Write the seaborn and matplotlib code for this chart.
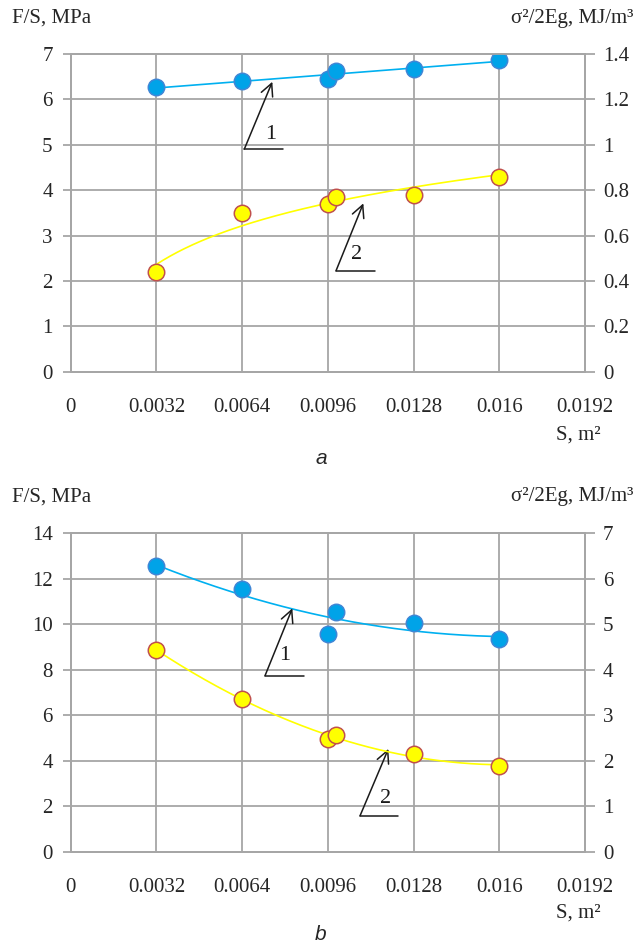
import numpy as np
import pandas as pd
import matplotlib
matplotlib.use("Agg")
import matplotlib.pyplot as plt
import seaborn as sns

# ---------------- data ----------------
S = [0.0032, 0.0064, 0.0096, 0.0099, 0.0128, 0.016]
# panel a
a_FS = [6.27, 6.40, 6.45, 6.62, 6.68, 6.86]          # curve 1, left axis (MPa)
a_W = [0.44, 0.70, 0.74, 0.77, 0.78, 0.86]           # curve 2, right axis (MJ/m3)
# panel b
b_FS = [12.56, 11.55, 9.58, 10.53, 10.05, 9.36]      # curve 1, left axis (MPa)
b_W = [4.44, 3.35, 2.47, 2.56, 2.14, 1.89]           # curve 2, right axis (MJ/m3)

x_ticks = [0, 0.0032, 0.0064, 0.0096, 0.0128, 0.016, 0.0192]
x_ticklabels = ["0", "0.0032", "0.0064", "0.0096", "0.0128", "0.016", "0.0192"]
a_left_ticks = [0, 1, 2, 3, 4, 5, 6, 7]
a_right_ticks = [0, 0.2, 0.4, 0.6, 0.8, 1, 1.2, 1.4]
b_left_ticks = [0, 2, 4, 6, 8, 10, 12, 14]
b_right_ticks = [0, 1, 2, 3, 4, 5, 6, 7]

left_label = "F/S, MPa"
right_label = "σ²/2Eg, MJ/m³"
x_label = "S, m²"
panel_labels = ["a", "b"]

# ---------------- style ----------------
sns.set_theme(style="white")
plt.rcParams['font.family'] = ['Liberation Serif', 'DejaVu Serif']
plt.rcParams['mathtext.fontset'] = 'stix'

BLUE = "#00A3E8"
BLUE_LINE = "#00B0F0"
BLUE_EDGE = "#3F86D6"
YEL = "#FFFF00"
YEL_EDGE = "#C0504D"
GRID = "#A6A6A6"
TXT = "#262626"
FS = 15

fig = plt.figure(figsize=(6.41, 9.43), dpi=100)
W, H = 641, 943
ax_left_px, ax_right_px = 70.7, 585.0


def make_axes(top_px, bot_px):
    return fig.add_axes([ax_left_px / W, 1 - bot_px / H,
                         (ax_right_px - ax_left_px) / W, (bot_px - top_px) / H])


def style_axes(ax, ax2, lticks, rticks):
    ax.set_xlim(0, 0.0192)
    ax.set_ylim(lticks[0], lticks[-1])
    ax2.set_ylim(rticks[0], rticks[-1])
    ax.set_xticks(x_ticks)
    ax.set_xticklabels(x_ticklabels)
    ax.set_yticks(lticks)
    ax.set_yticklabels([f"{t:g}" for t in lticks])
    ax2.set_yticks(rticks)
    ax2.set_yticklabels([f"{t:g}" for t in rticks])
    ax.grid(True, color=GRID, lw=1.3)
    ax2.grid(False)
    for a in (ax, ax2):
        for sp in a.spines.values():
            sp.set_color(GRID)
            sp.set_linewidth(1.3)
        a.spines['top'].set_visible(True)
        a.tick_params(labelcolor=TXT, labelsize=FS, length=6, width=1.3,
                      color=GRID, direction='out')
        a.set_xlabel("")
        a.set_ylabel("")
    ax.tick_params(axis='x', pad=13)
    ax.tick_params(axis='y', pad=7)
    ax2.tick_params(axis='y', pad=6, length=7)
    ax.set_zorder(ax2.get_zorder() - 1)
    ax2.patch.set_visible(False)


def fit_curve(x, y, kind):
    xs = np.linspace(S[0], S[-1], 200)
    x = np.asarray(x); y = np.asarray(y)
    if kind == "lin":
        p = np.polyfit(x, y, 1); ys = np.polyval(p, xs)
    elif kind == "log":
        p = np.polyfit(np.log(x), y, 1); ys = np.polyval(p, np.log(xs))
    else:
        p = np.polyfit(x, y, 2); ys = np.polyval(p, xs)
    return pd.DataFrame({"x": xs, "y": ys})


def draw_series(ax, x, y, kind, line_color, fill, edge):
    d = fit_curve(x, y, kind)
    sns.lineplot(data=d, x="x", y="y", ax=ax, color=line_color, lw=1.2,
                 zorder=3, legend=False)
    sns.scatterplot(x=x, y=y, ax=ax, color=fill, edgecolor=edge, s=140,
                    linewidth=1.1, zorder=4, legend=False)


def callout(ax, base, end_x, tip, txt_pos, label):
    ax.annotate("", xy=tip, xytext=base,
                arrowprops=dict(arrowstyle="->", color="#1a1a1a", lw=1.1,
                                mutation_scale=22, shrinkA=0, shrinkB=0),
                zorder=6)
    ax.plot([base[0], end_x], [base[1], base[1]], color="#1a1a1a", lw=1.1,
            zorder=6)
    ax.text(txt_pos[0], txt_pos[1], label, fontsize=16, ha="center",
            va="center", color="#1a1a1a", zorder=6)


# ---------------- panel a ----------------
axA = make_axes(54.0, 371.7)
axA2 = axA.twinx()
style_axes(axA, axA2, a_left_ticks, a_right_ticks)
draw_series(axA, S, a_FS, "lin", BLUE_LINE, BLUE, BLUE_EDGE)
draw_series(axA2, S, a_W, "log", YEL, YEL, YEL_EDGE)
axA.set_xlabel(""); axA.set_ylabel(""); axA2.set_ylabel("")
callout(axA, (0.006482, 4.905), 0.007938, (0.007527, 6.388), (0.007468, 5.236), "1")
callout(axA, (0.009906, 2.225), 0.011362, (0.010925, 3.709), (0.010679, 2.593), "2")

# ---------------- panel b ----------------
axB = make_axes(533.3, 851.7)
axB2 = axB.twinx()
style_axes(axB, axB2, b_left_ticks, b_right_ticks)
draw_series(axB, S, b_FS, "quad", BLUE_LINE, BLUE, BLUE_EDGE)
draw_series(axB2, S, b_W, "quad", YEL, YEL, YEL_EDGE)
axB.set_xlabel(""); axB.set_ylabel(""); axB2.set_ylabel("")
callout(axB, (0.007255, 7.74), 0.00871, (0.008274, 10.70), (0.007976, 8.61), "1")
callout(axB, (0.010802, 1.58), 0.01221, (0.011859, 4.52), (0.011773, 2.36), "2")

# ---------------- texts ----------------
for (ytitle, yx) in [(18, 435), (497, 913)]:
    fig.text(12 / W, 1 - ytitle / H, left_label, fontsize=FS, ha="left", va="center", color=TXT)
    fig.text(633 / W, 1 - ytitle / H, right_label, fontsize=FS, ha="right", va="center", color=TXT)
    fig.text(601 / W, 1 - yx / H, x_label, fontsize=FS, ha="right", va="center", color=TXT)
fig.text(321 / W, 1 - 458 / H, panel_labels[0], fontsize=15, ha="center", va="center",
         family=["Liberation Sans"], style="italic", color=TXT)
fig.text(321 / W, 1 - 935 / H, panel_labels[1], fontsize=15, ha="center", va="center",
         family=["Liberation Sans"], style="italic", color=TXT)

fig.savefig("out.png", dpi=100, facecolor="white")
